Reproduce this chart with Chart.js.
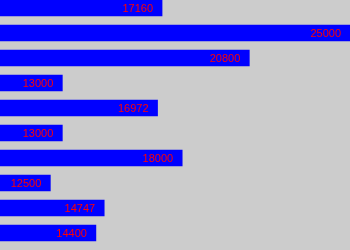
<!DOCTYPE html>
<html>
<head>
<meta charset="utf-8">
<script src="https://cdn.jsdelivr.net/npm/chart.js@4/dist/chart.umd.min.js"></script>
<style>
  html, body { margin: 0; padding: 0; background: #cccccc; }
  #wrap { position: relative; width: 350px; height: 250px; }
</style>
</head>
<body>
<div id="wrap"><canvas id="c"></canvas></div>
<script>
// Salary figures, one per row (top to bottom)
const rows = [0, 1, 2, 3, 4, 5, 6, 7, 8, 9];
const salaries = [17160, 25000, 20800, 13000, 16972, 13000, 18000, 12500, 14747, 14400];
const axisMin = 10400;
const axisMax = 25000;

// Writes each bar's value just inside its right end
const valueLabels = {
  id: 'valueLabels',
  afterDatasetsDraw(chart) {
    const ctx = chart.ctx;
    const meta = chart.getDatasetMeta(0);
    ctx.save();
    ctx.font = '11px "Liberation Sans", Arial, sans-serif';
    ctx.fillStyle = '#ff0000';
    ctx.textAlign = 'right';
    ctx.textBaseline = 'middle';
    meta.data.forEach((bar, i) => {
      ctx.fillText(String(salaries[i]), bar.x - 9, bar.y + 0.5);
    });
    ctx.restore();
  }
};

new Chart(document.getElementById('c'), {
  type: 'bar',
  data: {
    datasets: [{
      data: rows.map((r, i) => ({ x: salaries[i], y: r })),
      backgroundColor: '#0000ff',
      borderWidth: 0,
      barThickness: 16,
      base: axisMin
    }]
  },
  options: {
    indexAxis: 'y',
    responsive: true,
    maintainAspectRatio: false,
    animation: false,
    layout: { padding: 0 },
    plugins: { legend: { display: false }, tooltip: { enabled: false } },
    scales: {
      x: { type: 'linear', min: axisMin, max: axisMax, display: false },
      y: { type: 'linear', min: -0.32, max: 9.68, reverse: true, offset: false, display: false }
    }
  },
  plugins: [valueLabels]
});
</script>
</body>
</html>
